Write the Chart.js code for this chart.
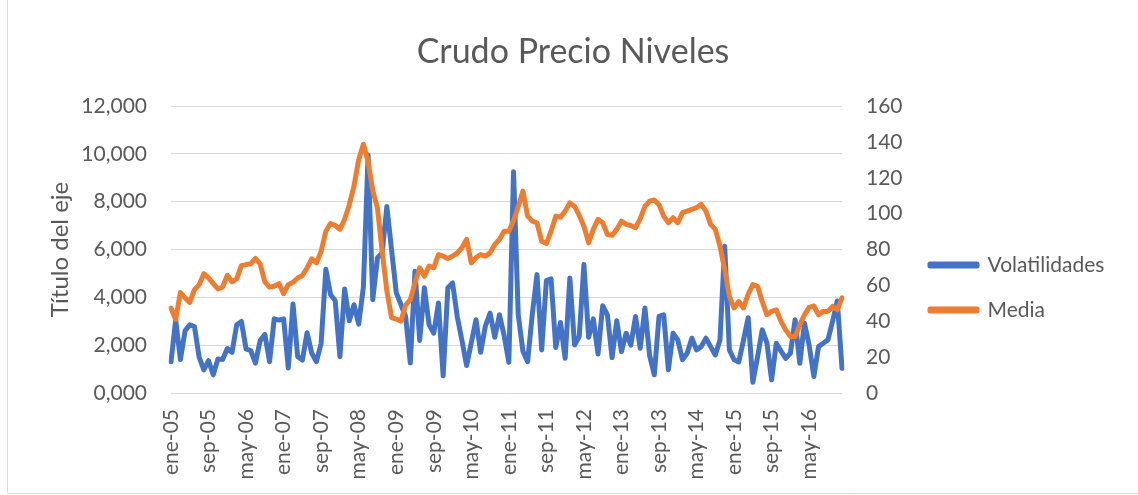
<!DOCTYPE html>
<html>
<head>
<meta charset="utf-8">
<script src="https://cdn.jsdelivr.net/npm/chart.js@4.4.1/dist/chart.umd.min.js"></script>
<style>
  html, body { margin: 0; padding: 0; background: #fff; }
  canvas { display: block; }
</style>
</head>
<body>
<canvas id="grafico" width="1138" height="495"></canvas>
<script>
// categorias: meses ene-05 .. dic-16
const meses = ['ene', 'feb', 'mar', 'abr', 'may', 'jun', 'jul', 'ago', 'sep', 'oct', 'nov', 'dic']
const anios = ['05', '06', '07', '08', '09', '10', '11', '12', '13', '14', '15', '16']
const etiquetas = []
anios.forEach(a => meses.forEach(m => etiquetas.push(m + '-' + a)))

// eje izquierdo (0,000 - 12,000)
const volatilidades = [
  1.31, 3.05, 1.40, 2.60, 2.85, 2.78, 1.50, 0.97, 1.35, 0.76, 1.42, 1.40,
  1.86, 1.70, 2.85, 2.99, 1.84, 1.77, 1.25, 2.19, 2.45, 1.31, 3.10, 3.05,
  3.10, 1.05, 3.72, 1.52, 1.38, 2.52, 1.66, 1.31, 2.08, 5.17, 4.12, 3.86,
  1.52, 4.35, 3.02, 3.69, 2.88, 4.42, 9.95, 3.90, 5.65, 5.85, 7.80, 6.00,
  4.20, 3.70, 3.20, 1.25, 5.09, 2.20, 4.40, 2.85, 2.50, 3.76, 0.72, 4.40,
  4.60, 3.20, 2.20, 1.15, 2.10, 3.06, 1.70, 2.80, 3.34, 2.33, 3.27, 2.40,
  1.28, 9.25, 3.27, 1.75, 1.31, 3.30, 4.95, 1.80, 4.70, 4.77, 1.90, 2.95,
  1.45, 4.81, 2.01, 2.36, 5.37, 2.33, 3.10, 1.63, 3.65, 3.27, 1.48, 3.02,
  1.73, 2.50, 2.00, 3.20, 1.87, 3.55, 1.57, 0.76, 3.20, 3.27, 0.97, 2.50,
  2.22, 1.39, 1.66, 2.29, 1.80, 1.94, 2.29, 1.94, 1.59, 2.22, 6.14, 1.80,
  1.39, 1.30, 2.20, 3.15, 0.45, 1.50, 2.64, 2.10, 0.55, 2.08, 1.75, 1.45,
  1.66, 3.06, 1.24, 2.92, 2.00, 0.69, 1.94, 2.08, 2.22, 3.00, 3.85, 1.03
]

// eje derecho (0 - 160)
const media = [
  47.4, 41, 56, 53, 50.5, 57.5, 60.4, 66.5, 64.2, 61, 58, 59,
  65.6, 62, 63.6, 71, 71.6, 72, 75, 72, 62, 59, 59.5, 61,
  55.4, 60.4, 61.7, 64.1, 65.5, 69.7, 74.8, 72.5, 79, 90.2, 94.5, 93.4,
  91.2, 96.8, 105, 115.4, 130, 138.7, 129, 113, 103, 79, 57, 42,
  41.2, 40, 49, 52, 61.4, 69.8, 65.1, 70.7, 69.8, 77.2, 76.3, 75,
  76.3, 78, 81, 85.6, 72.5, 75.5, 77.2, 76.3, 78.1, 82.8, 85.6, 90.2,
  90.2, 96, 104, 112.6, 98.6, 95.8, 94.9, 84.6, 83.3, 90.2, 98.6, 98,
  101.4, 106, 104, 99, 93, 83.7, 91.2, 96.8, 94.9, 88.4, 87.9, 91.2,
  95.8, 94, 93.4, 92.1, 97.2, 104, 107, 107.6, 105, 98.6, 94.9, 97.7,
  94.9, 100.5, 101.4, 102.4, 103.3, 105.2, 101.4, 94, 91.2, 81.8, 68.8, 53.9,
  47.4, 51, 47.4, 55, 60.4, 59.5, 51, 43.6, 45.5, 46.4, 39.9, 35.2,
  31.5, 31.5, 38, 43.6, 47.7, 48.5, 43.6, 45.5, 45.5, 48.3, 46.4, 53
]

const GRIS = '#595959'
const FUENTE = 21
const FUENTE_TITULO_EJE = 24
const AREA = { left: 171, right: 842, top: 106, bottom: 393 }

Chart.defaults.font.family = 'Lato'
Chart.defaults.color = GRIS

// ancho del texto mas largo de la leyenda, para que la leyenda empiece en x = 930
const medidor = document.createElement('canvas').getContext('2d')
medidor.font = FUENTE + 'px Lato'
const anchoTexto = medidor.measureText('Volatilidades').width
const PAD_R = Math.max(0, 1138 + 24 - 930 - (24 + 47 + FUENTE / 2 + 10) - anchoTexto)
const PAD_L = PAD_R + 8

// marco gris del grafico
const marco = {
  id: 'marco',
  afterDraw(chart) {
    const c = chart.ctx
    c.save()
    c.strokeStyle = '#D9D9D9'
    c.lineWidth = 1
    c.beginPath()
    c.moveTo(7.5, 0)
    c.lineTo(7.5, 493.5)
    c.lineTo(1138, 493.5)
    c.stroke()
    c.restore()
  }
}

new Chart(document.getElementById('grafico'), {
  type: 'line',
  data: {
    labels: etiquetas,
    datasets: [
      {
        label: 'Volatilidades',
        data: volatilidades,
        yAxisID: 'y',
        borderColor: '#4472C4',
        backgroundColor: '#4472C4',
        borderWidth: 5,
        pointRadius: 0,
        tension: 0,
        borderJoinStyle: 'round',
        borderCapStyle: 'round',
        order: 1
      },
      {
        label: 'Media',
        data: media,
        yAxisID: 'y1',
        borderColor: '#ED7D31',
        backgroundColor: '#ED7D31',
        borderWidth: 5,
        pointRadius: 0,
        tension: 0,
        borderJoinStyle: 'round',
        borderCapStyle: 'round',
        order: 0
      }
    ]
  },
  options: {
    responsive: false,
    animation: false,
    devicePixelRatio: 1,
    layout: { padding: { left: PAD_L, right: PAD_R, top: 0, bottom: 0 } },
    plugins: {
      title: {
        display: true,
        text: 'Crudo Precio Niveles',
        color: GRIS,
        font: { size: 34, weight: 'normal' },
        padding: { top: 31.6, bottom: 33.6 }
      },
      legend: {
        position: 'right',
        align: 'center',
        maxWidth: 600,
        title: { display: true, text: ' ', font: { size: 10, lineHeight: 1 }, padding: { top: 70, bottom: 0 } },
        labels: {
          boxWidth: 47,
          boxHeight: 2,
          padding: 24,
          color: GRIS,
          font: { size: FUENTE },
          sort: (a, b) => a.datasetIndex - b.datasetIndex
        }
      },
      tooltip: { enabled: false }
    },
    scales: {
      x: {
        grid: { display: false },
        border: { display: false },
        ticks: {
          autoSkip: false,
          minRotation: 90,
          maxRotation: 90,
          padding: 8,
          font: { size: FUENTE },
          callback(v, i) { return i % 8 === 0 ? this.getLabelForValue(v) : null }
        },
        afterFit(s) { s.height = 495 - AREA.bottom }
      },
      y: {
        position: 'left',
        min: 0,
        max: 12,
        ticks: {
          stepSize: 2,
          padding: 24,
          font: { size: FUENTE },
          callback: v => v.toFixed(3).replace('.', ',')
        },
        grid: { color: '#D9D9D9', lineWidth: 1, drawTicks: false },
        border: { display: false },
        title: {
          display: true,
          text: 'Título del eje',
          font: { size: FUENTE_TITULO_EJE },
          padding: { top: Math.max(0, 60 - PAD_L - FUENTE_TITULO_EJE * 0.6) }
        },
        afterFit(s) { s.width = AREA.left - PAD_L }
      },
      y1: {
        position: 'right',
        min: 0,
        max: 160,
        ticks: { stepSize: 20, padding: 24, font: { size: FUENTE } },
        grid: { display: false, drawTicks: false },
        border: { display: false },
        afterFit(s) {
          const leyenda = s.chart.legend ? s.chart.legend.width : 0
          s.width = s.chart.width - PAD_R - leyenda - AREA.right
        }
      }
    }
  },
  plugins: [marco]
})
</script>
</body>
</html>
